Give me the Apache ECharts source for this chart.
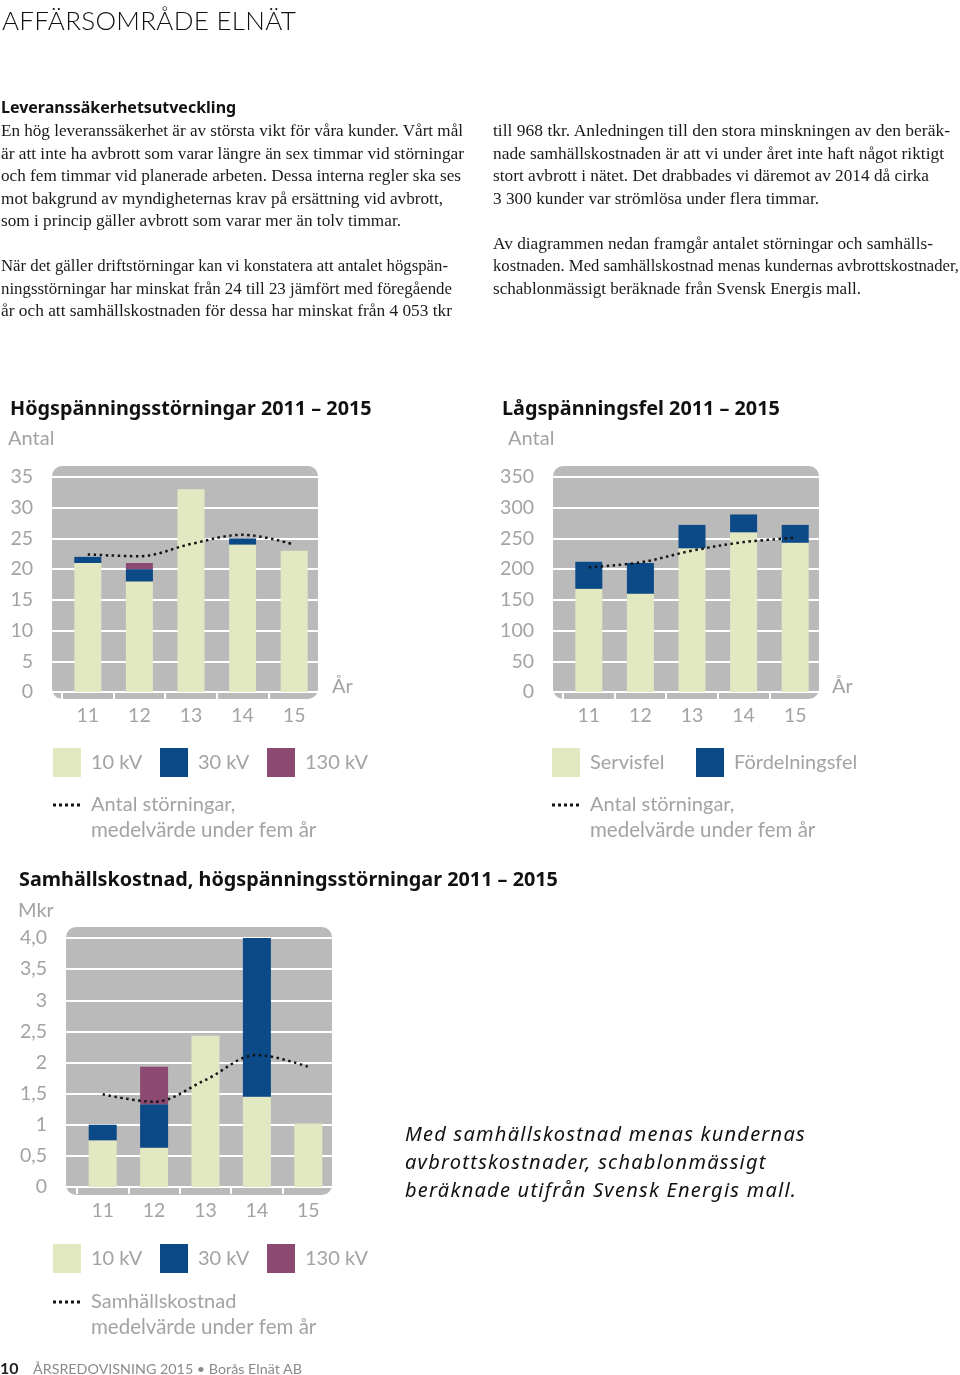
<!DOCTYPE html>
<html>
<head>
<meta charset="utf-8">
<script src="https://cdn.jsdelivr.net/npm/echarts@6/dist/echarts.min.js"></script>
<style>
  html, body { margin: 0; padding: 0; background: #fff; }
  body { width: 960px; height: 1375px; position: relative; overflow: hidden; }
  #chart { position: absolute; left: 0; top: 0; width: 960px; height: 1375px; }
  .t { position: absolute; white-space: nowrap; }
  .body { font-family: "Liberation Serif", "DejaVu Serif", serif; font-size: 16.8px; line-height: 22px; color: #1a1a1a; transform-origin: 0 50%; }
  .sans { font-family: Lato, "Open Sans", sans-serif; }
</style>
</head>
<body>
<div id="chart"></div>
<div class="t sans" style="left:2px;top:3px;font-size:26px;font-weight:300;line-height:34px;color:#111;letter-spacing:0.3px;">AFFÄRSOMRÅDE ELNÄT</div>
<div class="t" style="left:1px;top:97px;font-family:'Noto Sans',sans-serif;font-size:16px;font-weight:700;line-height:20px;color:#111;">Leveranssäkerhetsutveckling</div>
<div id="textlines"></div>
<div class="t" style="left:405px;top:1120px;font-family:'Noto Sans',sans-serif;font-size:20px;font-style:italic;line-height:28px;color:#111;letter-spacing:1.25px;">Med samhällskostnad menas kundernas<br>avbrottskostnader, schablonmässigt<br>beräknade utifrån Svensk Energis mall.</div>
<div class="t sans" style="left:0px;top:1359px;font-size:16px;font-weight:700;line-height:18px;color:#222;">10</div>
<div class="t sans" style="left:33px;top:1360px;font-size:14.3px;line-height:18px;color:#8a8a8a;">ÅRSREDOVISNING 2015 • Borås Elnät AB</div>
<script>
// ---- body text: [centre y, right end x, text] ----
const leftLines = [
  [131, 463, "En hög leveranssäkerhet är av största vikt för våra kunder. Vårt mål"],
  [154, 464, "är att inte ha avbrott som varar längre än sex timmar vid störningar"],
  [176, 461, "och fem timmar vid planerade arbeten. Dessa interna regler ska ses"],
  [199, 443, "mot bakgrund av myndigheternas krav på ersättning vid avbrott,"],
  [221, 401, "som i princip gäller avbrott som varar mer än tolv timmar."],
  [266, 448, "När det gäller driftstörningar kan vi konstatera att antalet högspän-"],
  [289, 452, "ningsstörningar har minskat från 24 till 23 jämfört med föregående"],
  [311, 452, "år och att samhällskostnaden för dessa har minskat från 4 053 tkr"]
];
const rightLines = [
  [131, 950, "till 968 tkr. Anledningen till den stora minskningen av den beräk-"],
  [154, 944, "nade samhällskostnaden är att vi under året inte haft något riktigt"],
  [176, 929, "stort avbrott i nätet. Det drabbades vi däremot av 2014 då cirka"],
  [199, 819, "3 300 kunder var strömlösa under flera timmar."],
  [244, 933, "Av diagrammen nedan framgår antalet störningar och samhälls-"],
  [266, 959, "kostnaden. Med samhällskostnad menas kundernas avbrottskostnader,"],
  [289, 861, "schablonmässigt beräknade från Svensk Energis mall."]
];
const tl = document.getElementById('textlines');
function addLines(lines, x) {
  lines.forEach(([y, end, s]) => {
    const d = document.createElement('div');
    d.className = 't body';
    d.style.left = x + 'px';
    d.style.top = (y - 11) + 'px';
    d.textContent = s;
    tl.appendChild(d);
    const w = d.getBoundingClientRect().width;
    const target = end - x;
    if (w > 0) d.style.transform = 'scaleX(' + (target / w).toFixed(4) + ')';
  });
}
addLines(leftLines, 1);
addLines(rightLines, 493);

// ---- chart data ----
const years = ['11', '12', '13', '14', '15'];
// Högspänningsstörningar (antal)
const hs10kV = [21, 18, 33, 24, 23];
const hs30kV = [1, 2, 0, 1, 0];
const hs130kV = [0, 1, 0, 0, 0];
const hsAvg = [22.4, 22.1, 24.1, 25.6, 24.0];
// Lågspänningsfel (antal)
const lsServisfel = [168, 160, 234, 260, 243];
const lsFordelningsfel = [44, 50, 38, 29, 29];
const lsAvg = [203, 211, 230, 244, 251];
// Samhällskostnad (Mkr)
const sk10kV = [0.75, 0.63, 2.43, 1.45, 1.02];
const sk30kV = [0.25, 0.70, 0, 2.58, 0];
const sk130kV = [0, 0.60, 0, 0, 0];
const skAvg = [1.49, 1.37, 1.72, 2.12, 1.93];
const skTickLabels = ['0', '0,5', '1', '1,5', '2', '2,5', '3', '3,5', '4,0'];

const C_LIGHT = '#e2e9c2', C_NAVY = '#0b4a87', C_PURPLE = '#8c4a72', C_BG = '#bababa', C_LABEL = '#a3a3a3', C_DOT = '#141414';
const FONT = 'Lato';
const TFONT = "'Noto Sans'";

function axisGrid(idx, left, top, width, height, max, interval, fmt) {
  return {
    grid: { left, top, width, height },
    x: { type: 'value', gridIndex: idx, min: 0, max: 1, show: false },
    y: {
      type: 'value', gridIndex: idx, min: 0, max, interval,
      axisLine: { show: false }, axisTick: { show: false },
      splitLine: { show: true, lineStyle: { color: '#ffffff', width: 2 } },
      axisLabel: { color: C_LABEL, fontSize: 19.5, fontFamily: FONT, margin: 19, formatter: fmt }
    }
  };
}
function barGrid(idx, left, top, width, height, max) {
  return {
    grid: { left, top, width, height },
    x: {
      type: 'category', gridIndex: idx, data: years,
      axisLine: { show: true, lineStyle: { color: '#ffffff', width: 2 } },
      axisTick: { show: true, alignWithLabel: false, length: 7, lineStyle: { color: '#ffffff', width: 2 } },
      axisLabel: { color: C_LABEL, fontSize: 19.5, fontFamily: FONT, margin: 14 },
      splitLine: { show: false }
    },
    y: { type: 'value', gridIndex: idx, min: 0, max, show: false, splitLine: { show: false } }
  };
}

const parts = [
  axisGrid(0, 52, 477, 266, 215, 35, 5),
  barGrid(1, 62, 477, 258, 215, 35),
  axisGrid(2, 553, 477, 266, 215, 350, 50),
  barGrid(3, 563, 477, 258, 215, 350),
  axisGrid(4, 66, 938, 266, 249, 4, 0.5, v => skTickLabels[Math.round(v / 0.5)]),
  barGrid(5, 77, 938, 257, 249, 4)
];

function bar(name, data, color, gi, width) {
  return { type: 'bar', name, data, stack: 's' + gi, xAxisIndex: gi, yAxisIndex: gi,
    barWidth: width, itemStyle: { color }, silent: true };
}
function avgLine(name, data, gi) {
  return { type: 'line', name, data, xAxisIndex: gi, yAxisIndex: gi, smooth: 0.35,
    symbol: 'none', z: 5, silent: true, itemStyle: { color: C_DOT },
    lineStyle: { color: C_DOT, width: 2.5, type: [2.5, 3.5] } };
}

const AVG_HS = 'Antal störningar,\nmedelvärde under fem år';
const AVG_SK = 'Samhällskostnad\nmedelvärde under fem år';

const series = [
  bar('10 kV', hs10kV, C_LIGHT, 1, 27),
  bar('30 kV', hs30kV, C_NAVY, 1, 27),
  bar('130 kV', hs130kV, C_PURPLE, 1, 27),
  avgLine(AVG_HS, hsAvg, 1),
  bar('Servisfel', lsServisfel, C_LIGHT, 3, 27),
  bar('Fördelningsfel', lsFordelningsfel, C_NAVY, 3, 27),
  avgLine(AVG_HS, lsAvg, 3),
  bar('10 kV', sk10kV, C_LIGHT, 5, 28),
  bar('30 kV', sk30kV, C_NAVY, 5, 28),
  bar('130 kV', sk130kV, C_PURPLE, 5, 28),
  avgLine(AVG_SK, skAvg, 5)
];

const DOTS = 'path://M0,0h3v3h-3z M6,0h3v3h-3z M12,0h3v3h-3z M18,0h3v3h-3z M24,0h3v3h-3z';

function sqLegend(name, left, top) {
  return { data: [name], left, top, padding: 0, icon: 'rect', itemWidth: 28, itemHeight: 29,
    selectedMode: false,
    textStyle: { color: C_LABEL, fontSize: 20, fontFamily: FONT, padding: [0, 0, 0, 5] } };
}
function lineLegend(name, left, cy) {
  return { data: [name], left, top: cy - 12, padding: 0, icon: DOTS, itemWidth: 27, itemHeight: 3,
    selectedMode: false, itemStyle: { color: C_DOT, borderWidth: 0 },
    formatter: n => n.split('\n')[0],
    textStyle: { color: C_LABEL, fontSize: 20, fontFamily: FONT, lineHeight: 24, padding: [0, 0, 0, 6] } };
}

const legends = [
  sqLegend('10 kV', 53, 748), sqLegend('30 kV', 160, 748), sqLegend('130 kV', 267, 748),
  lineLegend(AVG_HS, 53, 805),
  sqLegend('Servisfel', 552, 748), sqLegend('Fördelningsfel', 696, 748),
  lineLegend(AVG_HS, 552, 805),
  sqLegend('10 kV', 53, 1244), sqLegend('30 kV', 160, 1244), sqLegend('130 kV', 267, 1244),
  lineLegend(AVG_SK, 53, 1302)
];

function txt(x, y, text, size, weight, color, fam) {
  return { type: 'text', x, y, silent: true, z: 10,
    style: { text, fill: color, font: (weight || 'normal') + ' ' + size + 'px ' + (fam || FONT), verticalAlign: 'middle', align: 'left' } };
}
function bgRect(x, y, w, h) {
  return { type: 'rect', silent: true, z: -10, shape: { x, y, width: w, height: h, r: 10 }, style: { fill: C_BG } };
}

const graphics = [
  bgRect(52, 466, 266, 233), bgRect(553, 466, 266, 233), bgRect(66, 927, 266, 268),
  txt(10, 409, 'Högspänningsstörningar 2011 – 2015', 19.8, 'bold', '#111', TFONT),
  txt(8, 439, 'Antal', 20, 'normal', C_LABEL),
  txt(332, 687, 'År', 20, 'normal', C_LABEL),
  txt(502, 409, 'Lågspänningsfel 2011 – 2015', 19.8, 'bold', '#111', TFONT),
  txt(508, 439, 'Antal', 20, 'normal', C_LABEL),
  txt(832, 687, 'År', 20, 'normal', C_LABEL),
  txt(19, 880, 'Samhällskostnad, högspänningsstörningar 2011 – 2015', 19.8, 'bold', '#111', TFONT),
  txt(18, 911, 'Mkr', 20, 'normal', C_LABEL),
  txt(91, 830, 'medelvärde under fem år', 20.5, 'normal', C_LABEL),
  txt(590, 830, 'medelvärde under fem år', 20.5, 'normal', C_LABEL),
  txt(91, 1327, 'medelvärde under fem år', 20.5, 'normal', C_LABEL)
];

const chart = echarts.init(document.getElementById('chart'), null, { renderer: 'canvas' });
chart.setOption({
  animation: false,
  backgroundColor: 'transparent',
  grid: parts.map(p => p.grid),
  xAxis: parts.map(p => p.x),
  yAxis: parts.map(p => p.y),
  series,
  legend: legends,
  graphic: { elements: graphics }
});
</script>
</body>
</html>
